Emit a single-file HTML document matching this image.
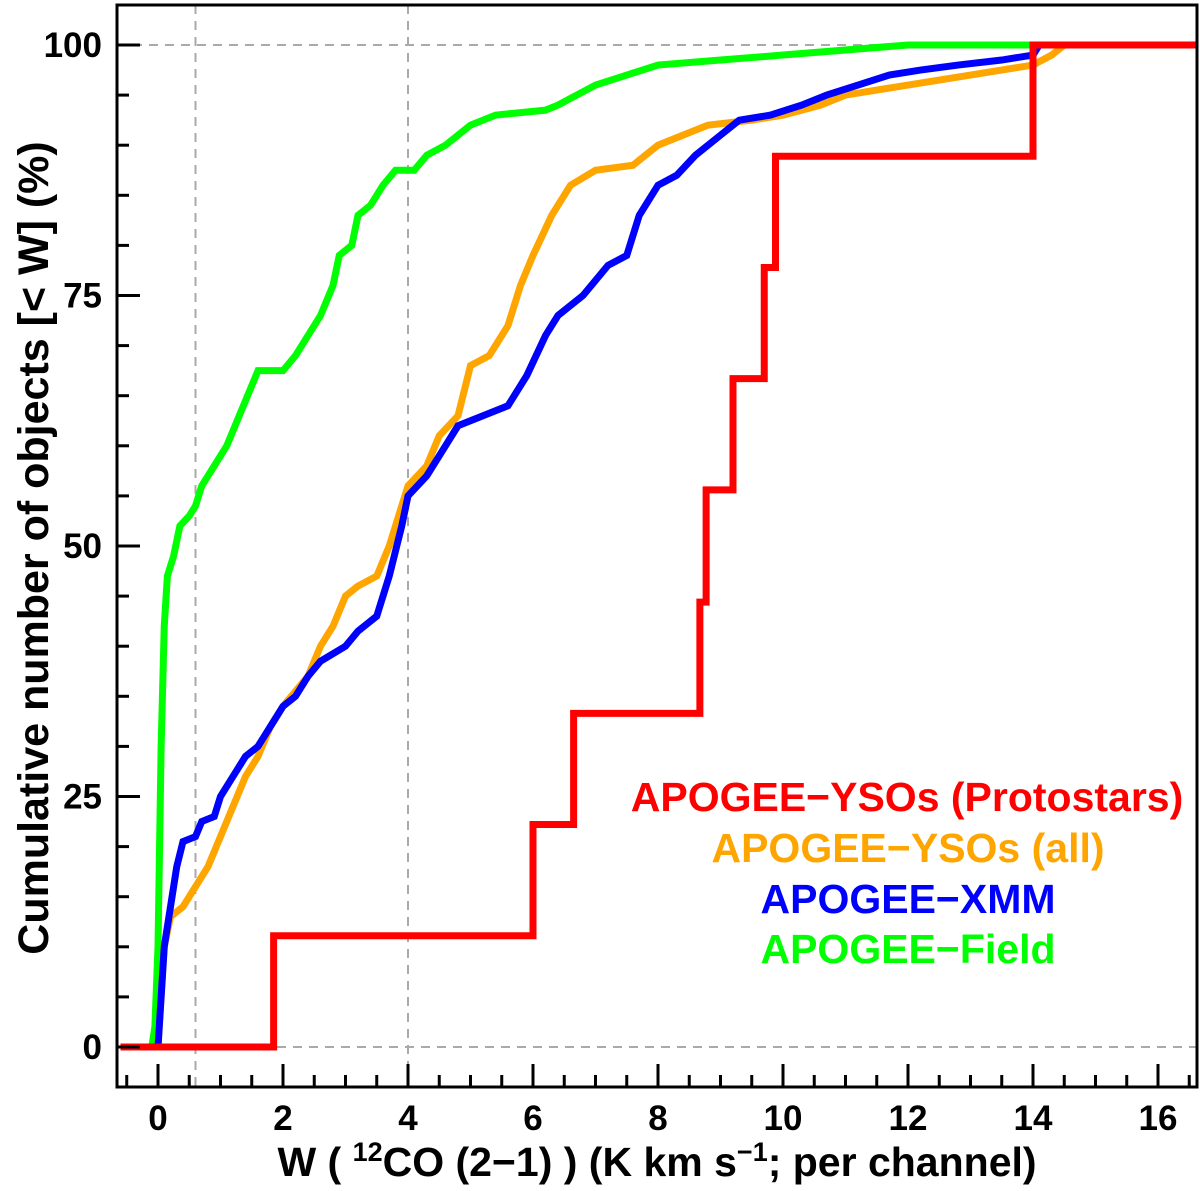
<!DOCTYPE html>
<html><head><meta charset="utf-8"><style>
body{margin:0;background:#fff;}
svg text{font-family:"Liberation Sans",Arial,sans-serif;font-weight:bold;}
</style></head><body>
<svg id="chart" width="1200" height="1186" xmlns="http://www.w3.org/2000/svg">
<g id="grid"></g>
<g id="series"></g>
<g id="axes"></g>
<text x="657" y="1176" font-size="41" text-anchor="middle">W ( <tspan font-size="27" dy="-15">12</tspan><tspan dy="15">CO (2−1) )  (K km s</tspan><tspan font-size="27" dy="-15">−1</tspan><tspan dy="15">; per channel)</tspan></text>
<text transform="translate(48,548) rotate(-90)" font-size="43" text-anchor="middle">Cumulative number of objects [&lt; W] (%)</text>
<g font-size="41" text-anchor="middle">
<text x="907" y="811" fill="#ff0000">APOGEE−YSOs (Protostars)</text>
<text x="908" y="862" fill="#ffa500">APOGEE−YSOs (all)</text>
<text x="908" y="913" fill="#0000ff">APOGEE−XMM</text>
<text x="908" y="963" fill="#00ff00">APOGEE−Field</text>
</g>
</svg>
<script>
const xTicks=[0,2,4,6,8,10,12,14,16];
const yTicks=[0,25,50,75,100];
const redX=[-0.6,1.85,6.0,6.65,8.67,8.77,9.2,9.7,9.88,14.0,16.7];
const redY=[0,11.1,22.2,33.3,44.4,55.6,66.7,77.8,88.9,100,100];
const greenX=[-0.6,-0.1,-0.05,0,0.05,0.1,0.15,0.25,0.35,0.5,0.6,0.7,0.9,1.1,1.3,1.5,1.6,2.0,2.2,2.4,2.6,2.8,2.9,3.1,3.2,3.4,3.6,3.8,4.1,4.3,4.6,5.0,5.4,6.2,6.4,7.0,7.5,8.0,9.0,10,12,16.7];
const greenY=[0,0,2,10,30,42,47,49,52,53,54,56,58,60,63,66,67.5,67.5,69,71,73,76,79,80,83,84,86,87.5,87.5,89,90,92,93,93.5,94,96,97,98,98.5,99,100,100];
const orangeX=[-0.6,0,0.05,0.1,0.2,0.4,0.6,0.8,1.0,1.2,1.4,1.6,1.8,2.0,2.4,2.6,2.8,3.0,3.2,3.5,3.7,3.9,4.0,4.3,4.5,4.8,5.0,5.3,5.6,5.8,6.0,6.3,6.6,7.0,7.6,8.0,8.4,8.8,9.5,10,10.6,11,12,13,14,14.3,14.5,16.7];
const orangeY=[0,0,5,10,13,14,16,18,21,24,27,29,32,34,37,40,42,45,46,47,50,54,56,58,61,63,68,69,72,76,79,83,86,87.5,88,90,91,92,92.5,93,94,95,96,97,98,99,100,100];
const blueX=[-0.6,0,0.05,0.1,0.2,0.3,0.4,0.6,0.7,0.9,1.0,1.2,1.4,1.6,1.8,2.0,2.2,2.4,2.6,3.0,3.2,3.5,3.7,3.9,4.0,4.3,4.6,4.8,5.2,5.6,5.9,6.2,6.4,6.8,7.2,7.5,7.7,8.0,8.3,8.6,9.0,9.3,9.8,10.3,10.7,11.2,11.7,12.2,12.8,13.5,14,14.1,16.7];
const blueY=[0,0,5,10,14,18,20.5,21,22.5,23,25,27,29,30,32,34,35,37,38.5,40,41.5,43,47,52,55,57,60,62,63,64,67,71,73,75,78,79,83,86,87,89,91,92.5,93,94,95,96,97,97.5,98,98.5,99,100,100];
const L=117,R=1197,T=5,B=1087;
const sx=v=>158+v*62.5;
const sy=v=>1047-v*10.02;
const NS='http://www.w3.org/2000/svg';
function mk(tag,attrs,parent){const e=document.createElementNS(NS,tag);for(const k in attrs)e.setAttribute(k,attrs[k]);parent.appendChild(e);return e;}
const grid=document.getElementById('grid'),ser=document.getElementById('series'),ax=document.getElementById('axes');
[0.6,4].forEach(v=>{const l=mk('line',{x1:sx(v),x2:sx(v),y1:T,y2:B,stroke:'#aaa','stroke-width':2,'stroke-dasharray':'9,7'},grid);

});
[0,100].forEach(v=>{const l=mk('line',{x1:L,x2:R,y1:sy(v),y2:sy(v),stroke:'#aaa','stroke-width':2,'stroke-dasharray':'9,7'},grid);

});
function stepPts(xs,ys){let p=[];for(let i=0;i<xs.length;i++){if(i>0)p.push(sx(xs[i])+','+sy(ys[i-1]));p.push(sx(xs[i])+','+sy(ys[i]));}return p.join(' ');}
function linePts(xs,ys){return xs.map((x,i)=>sx(x)+','+sy(ys[i])).join(' ');}
const clip=mk('clipPath',{id:'c'},mk('defs',{},ser));mk('rect',{x:L,y:T,width:R-L,height:B-T},clip);
const g=mk('g',{'clip-path':'url(#c)'},ser);
[[greenX,greenY,'#00ff00','series-field',false],[orangeX,orangeY,'#ffa500','series-ysos-all',false],[blueX,blueY,'#0000ff','series-xmm',false],[redX,redY,'#ff0000','series-protostars',true]].forEach(s=>{
const pl=mk('polyline',{points:s[4]?stepPts(s[0],s[1]):linePts(s[0],s[1]),fill:'none',stroke:s[2],'stroke-width':7,'stroke-linejoin':'miter'},g);

});
const fr=mk('rect',{x:L,y:T,width:R-L,height:B-T,fill:'none',stroke:'#000','stroke-width':3},ax);


for(let v=-0.5;v<=16.5;v+=0.5){const maj=Math.abs(v%2)<1e-9;mk('line',{x1:sx(v),x2:sx(v),y1:B,y2:B-(maj?23:12),stroke:'#000','stroke-width':3},ax);}
for(let v=0;v<=100;v+=5){const maj=v%25===0;mk('line',{x1:L,x2:L+(maj?23:12),y1:sy(v),y2:sy(v),stroke:'#000','stroke-width':3},ax);}
xTicks.forEach(v=>{const t=mk('text',{x:sx(v),y:1130,'font-size':35,'text-anchor':'middle'},ax);t.textContent=v;

});
yTicks.forEach(v=>{const t=mk('text',{x:102,y:sy(v)+12,'font-size':35,'text-anchor':'end'},ax);t.textContent=v;

});
</script>
</body></html>
